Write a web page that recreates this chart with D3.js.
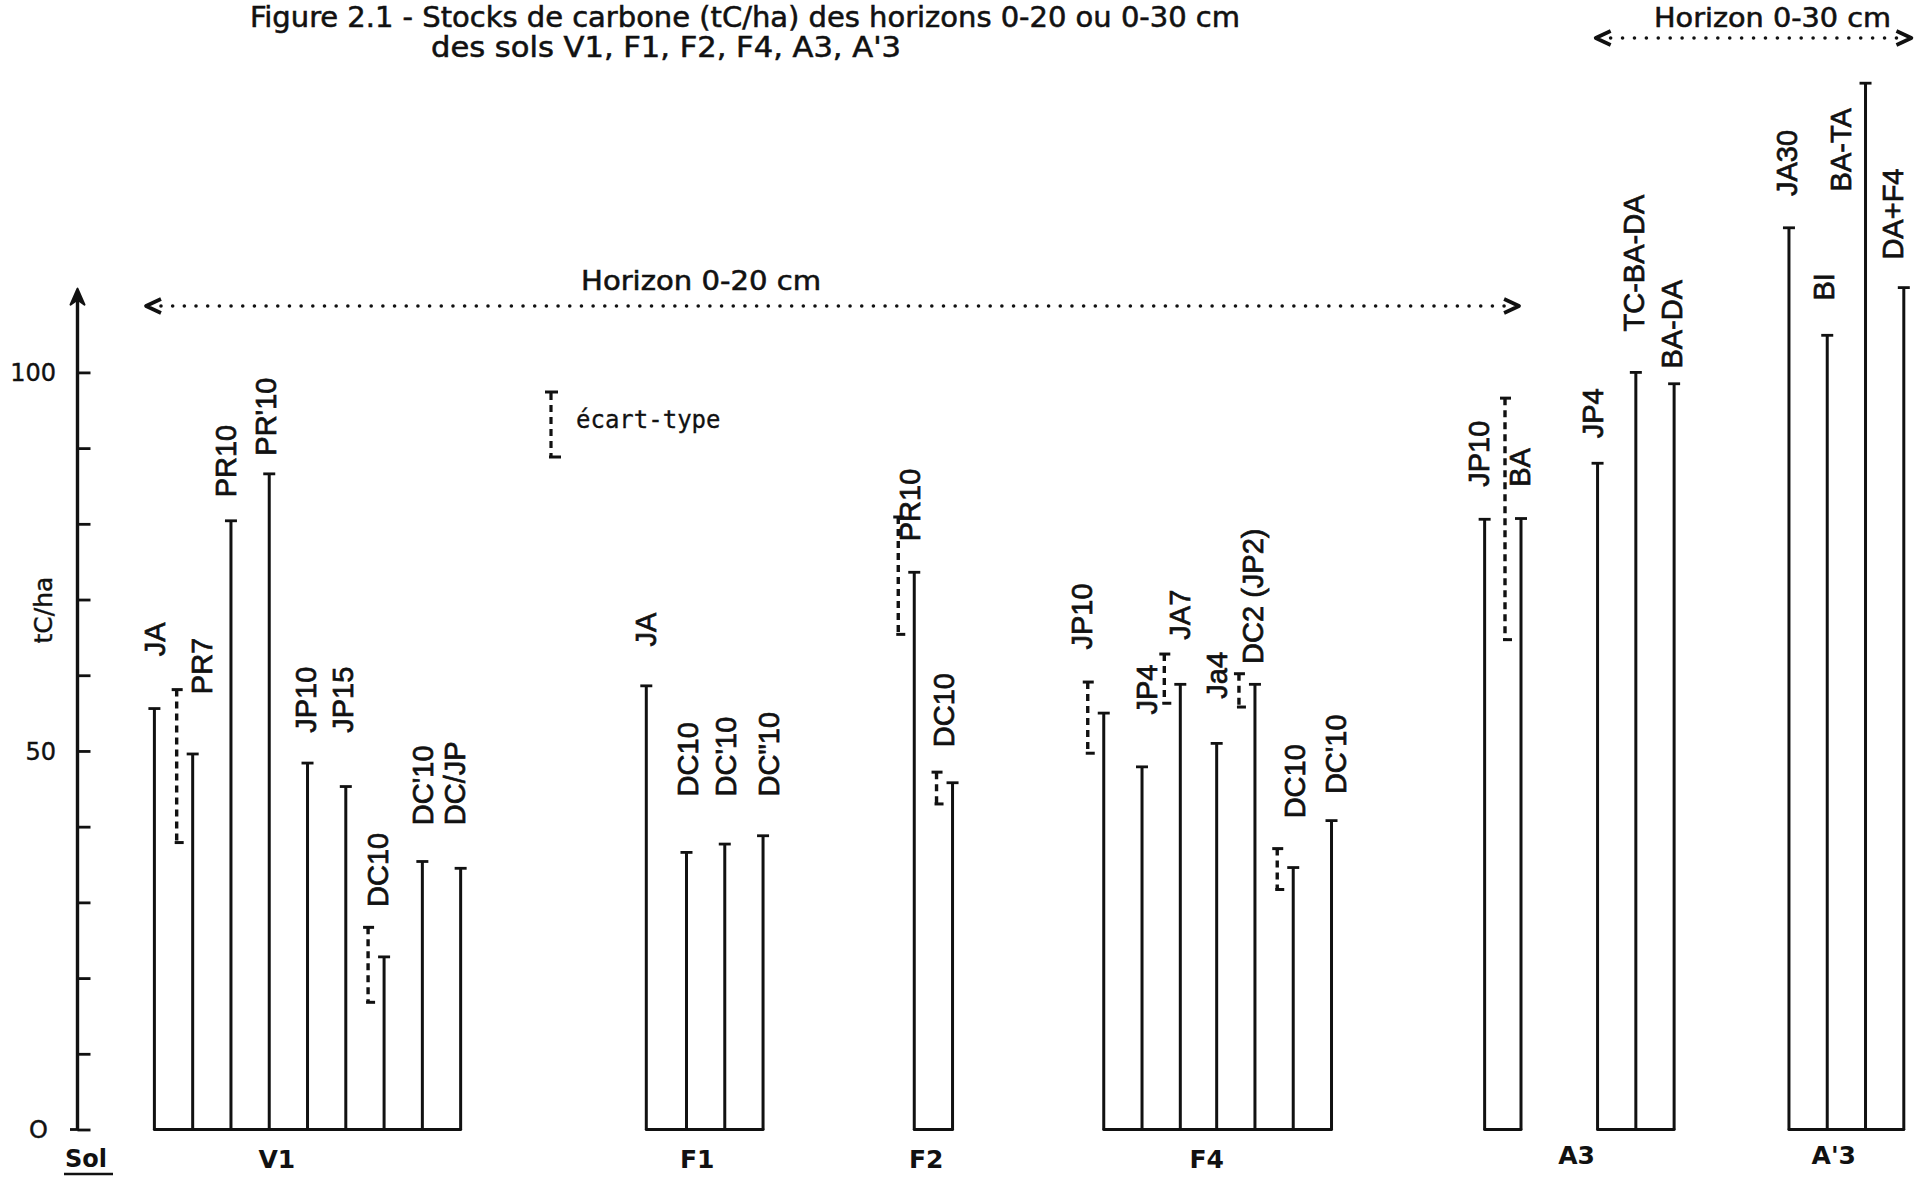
<!DOCTYPE html>
<html>
<head>
<meta charset="utf-8">
<script src="https://cdn.jsdelivr.net/npm/d3@7"></script>
<style>
  html, body { margin: 0; padding: 0; background: #fff; }
  svg { display: block; }
</style>
</head>
<body>
<svg id="chart" width="1921" height="1178"></svg>
<script>
// ---------------- DATA ----------------
const soils = ["V1", "F1", "F2", "F4", "A3", "A'3"];

const barLabels = [
  "JA", "PR7", "PR10", "PR'10", "JP10", "JP15", "DC10", "DC'10", "DC/JP",
  "JA", "DC10", "DC'10", "DC\"10",
  "PR10", "DC10",
  "JP10", "JP4", "JA7", "Ja4", "DC2 (JP2)", "DC10", "DC'10",
  "JP10", "BA", "JP4", "TC-BA-DA", "BA-DA",
  "JA30", "BI", "BA-TA", "DA+F4"
];

const barSoil = [
  "V1", "V1", "V1", "V1", "V1", "V1", "V1", "V1", "V1",
  "F1", "F1", "F1", "F1",
  "F2", "F2",
  "F4", "F4", "F4", "F4", "F4", "F4", "F4",
  "A3", "A3", "A3", "A3", "A3",
  "A'3", "A'3", "A'3", "A'3"
];

// carbon stock (tC/ha)
const stocks = [
  55.6, 49.6, 80.4, 86.6, 48.4, 45.3, 22.8, 35.4, 34.5,
  58.6, 36.6, 37.7, 38.8,
  73.6, 45.8,
  55.0, 47.9, 58.8, 51.0, 58.8, 34.6, 40.8,
  80.6, 80.7, 88.0, 100.0, 98.5,
  119.1, 104.9, 138.2, 111.2
];

// standard deviation range (low / high), null when not drawn
const errLow = [
  null, 37.9, null, null, null, null, 16.8, null, null,
  null, null, null, null,
  65.4, 43.0,
  49.7, null, 56.3, null, 55.8, 31.7, null,
  null, 64.7, null, null, null,
  null, null, null, null
];
const errHigh = [
  null, 58.1, null, null, null, null, 26.7, null, null,
  null, null, null, null,
  80.9, 47.2,
  59.1, null, 62.8, null, 60.2, 37.1, null,
  null, 96.6, null, null, null,
  null, null, null, null
];

const yTicksLabelled = [0, 50, 100];
const yTicksMinor = [10, 20, 30, 40, 60, 70, 80, 90];

// ---------------- LAYOUT ----------------
// horizontal order of the bars (category slots, gaps between soils)
const slot = [
  0, 1, 2, 3, 4, 5, 6, 7, 8,
  12.85, 13.9, 14.9, 15.9,
  19.85, 20.85,
  24.8, 25.8, 26.8, 27.75, 28.75, 29.75, 30.75,
  34.75, 35.7, 37.7, 38.7, 39.7,
  42.7, 43.7, 44.7, 45.7
];
const soilLabelSlot = [3.2, 14.18, 20.16, 27.49, 37.15, 43.87];
// label start height (tC/ha units) and horizontal nudge (px)
const labelAt = [
  62.5, 57.5, 83.5, 89.0, 52.4, 52.4, 29.4, 40.2, 40.2,
  63.8, 44.0, 44.0, 44.0,
  77.7, 50.5,
  63.4, 54.8, 64.7, 56.9, 61.5, 41.1, 44.3,
  84.9, 84.9, 91.3, 105.4, 100.5,
  123.3, 109.5, 123.9, 114.9
];
const labelDx = [
  0, 9, -5, -4, -2, -3, -7, 0, -6,
  -1, 1, 1, 5,
  -5, -8.6,
  -22, 5, -1, 0, -2.5, 1.2, 3.7,
  -6, -1.2, -5, -2.5, -2.5,
  -2.5, -3.7, -24.5, -11
];

const W = 1921, H = 1178;
const svg = d3.select("#chart");
svg.append("rect").attr("width", W).attr("height", H).attr("fill", "#fff");

const x = d3.scaleLinear().domain([0, 45.7]).range([154.4, 1903.8]);
const y = d3.scaleLinear().domain([0, 100]).range([1129.5, 372.4]);

const ink = "#111";
const labelFont = "'Liberation Sans', Arial, sans-serif";
const titleFont = "'Liberation Sans Narrow', 'DejaVu Sans Condensed', 'Liberation Sans', sans-serif";

// ---------------- TITLE ----------------
svg.append("text")
  .attr("x", 250).attr("y", 27)
  .attr("font-family", titleFont).attr("font-size", 28)
  .attr("textLength", 990).attr("lengthAdjust", "spacingAndGlyphs")
  .attr("fill", ink).attr("stroke", ink).attr("stroke-width", 0.5)
  .text("Figure 2.1 - Stocks de carbone (tC/ha) des horizons 0-20 ou 0-30 cm");
svg.append("text")
  .attr("x", 431).attr("y", 57)
  .attr("font-family", titleFont).attr("font-size", 28)
  .attr("textLength", 470).attr("lengthAdjust", "spacingAndGlyphs")
  .attr("fill", ink).attr("stroke", ink).attr("stroke-width", 0.5)
  .text("des sols V1, F1, F2, F4, A3, A'3");

// ---------------- Y AXIS ----------------
const yAxis = d3.axisRight(y)
  .tickValues(yTicksMinor.concat(yTicksLabelled))
  .tickSize(13).tickFormat("");
const axG = svg.append("g").attr("transform", "translate(77.5,0)").call(yAxis);
axG.select(".domain").remove();
axG.selectAll(".tick line").attr("stroke", ink).attr("stroke-width", 2.8);

svg.append("line")
  .attr("x1", 77.5).attr("x2", 77.5)
  .attr("y1", y(0)).attr("y2", y(110.5))
  .attr("stroke", ink).attr("stroke-width", 3.4);
svg.append("path")
  .attr("d", `M${77.5},${y(110.8) - 2} l-7,16 l7,-5 l7,5 z`)
  .attr("fill", ink).attr("stroke", ink).attr("stroke-width", 2).attr("stroke-linejoin", "round");
svg.append("line")
  .attr("x1", 70).attr("x2", 78).attr("y1", y(0)).attr("y2", y(0))
  .attr("stroke", ink).attr("stroke-width", 2.8);

svg.append("g").selectAll("text").data(yTicksLabelled).join("text")
  .attr("x", d => d === 0 ? 48 : 56)
  .attr("y", d => y(d))
  .attr("dy", "0.36em")
  .attr("text-anchor", "end")
  .attr("font-family", "'DejaVu Sans', sans-serif")
  .attr("font-size", 24)
  .attr("fill", ink).attr("stroke", ink).attr("stroke-width", 0.4)
  .text(d => d === 0 ? "O" : d);

svg.append("text")
  .attr("transform", `translate(43,${y(68.6)}) rotate(-90)`)
  .attr("text-anchor", "middle").attr("dy", "0.36em")
  .attr("font-family", "'DejaVu Sans', sans-serif").attr("font-size", 25)
  .attr("fill", ink).attr("stroke", ink).attr("stroke-width", 0.4)
  .text("tC/ha");

svg.append("text")
  .attr("x", 65).attr("y", 1167)
  .attr("font-family", "'DejaVu Sans', sans-serif").attr("font-size", 24)
  .attr("font-weight", "bold")
  .attr("fill", ink).text("Sol");
svg.append("line")
  .attr("x1", 64).attr("x2", 113).attr("y1", 1174).attr("y2", 1174)
  .attr("stroke", ink).attr("stroke-width", 2.4);

// ---------------- BARS ----------------
const bars = stocks.map((v, i) => ({
  v, i, label: barLabels[i], soil: barSoil[i], s: slot[i],
  lo: errLow[i], hi: errHigh[i], la: labelAt[i], dx: labelDx[i]
}));

const clusters = [];
bars.forEach((b, i) => {
  const prev = bars[i - 1];
  if (prev && prev.soil === b.soil && b.s - prev.s < 1.2) clusters[clusters.length - 1].push(b);
  else clusters.push([b]);
});
svg.append("g").selectAll("line").data(clusters.filter(c => c.length > 1)).join("line")
  .attr("x1", c => x(c[0].s)).attr("x2", c => x(c[c.length - 1].s))
  .attr("y1", y(0)).attr("y2", y(0))
  .attr("stroke", ink).attr("stroke-width", 3).attr("stroke-linecap", "round");

const bg = svg.append("g");
bg.selectAll("line.bar").data(bars).join("line").attr("class", "bar")
  .attr("x1", d => x(d.s)).attr("x2", d => x(d.s))
  .attr("y1", y(0)).attr("y2", d => y(d.v))
  .attr("stroke", ink).attr("stroke-width", 3);
bg.selectAll("line.cap").data(bars).join("line").attr("class", "cap")
  .attr("x1", d => x(d.s) - 6).attr("x2", d => x(d.s) + 6)
  .attr("y1", d => y(d.v)).attr("y2", d => y(d.v))
  .attr("stroke", ink).attr("stroke-width", 2.8);

// standard deviation (dashed)
const errs = bars.filter(d => d.lo !== null);
const eg = svg.append("g");
eg.selectAll("line.err").data(errs).join("line").attr("class", "err")
  .attr("x1", d => x(d.s) - 16).attr("x2", d => x(d.s) - 16)
  .attr("y1", d => y(d.hi)).attr("y2", d => y(d.lo))
  .attr("stroke", ink).attr("stroke-width", 3.4).attr("stroke-dasharray", "7,5");
eg.selectAll("line.errTop").data(errs).join("line").attr("class", "errTop")
  .attr("x1", d => x(d.s) - 21).attr("x2", d => x(d.s) - 10)
  .attr("y1", d => y(d.hi)).attr("y2", d => y(d.hi))
  .attr("stroke", ink).attr("stroke-width", 3);
eg.selectAll("line.errBot").data(errs).join("line").attr("class", "errBot")
  .attr("x1", d => x(d.s) - 18).attr("x2", d => x(d.s) - 9)
  .attr("y1", d => y(d.lo)).attr("y2", d => y(d.lo))
  .attr("stroke", ink).attr("stroke-width", 3);

// bar labels (vertical)
svg.append("g").selectAll("text").data(bars).join("text")
  .attr("transform", d => `translate(${x(d.s) + d.dx},${y(d.la)}) rotate(-90)`)
  .attr("dy", "0.36em")
  .attr("font-family", labelFont).attr("font-size", 29)
  .attr("fill", ink).attr("stroke", ink).attr("stroke-width", 0.7)
  .text(d => d.label);

// soil labels
svg.append("g").selectAll("text").data(soils).join("text")
  .attr("x", (d, i) => x(soilLabelSlot[i]))
  .attr("y", (d, i) => i >= 4 ? 1164 : 1168)
  .attr("text-anchor", "middle")
  .attr("font-family", "'DejaVu Sans', sans-serif").attr("font-size", 25)
  .attr("font-weight", "bold")
  .attr("fill", ink)
  .text(d => d);

// ---------------- LEGEND ----------------
const lg = svg.append("g");
lg.append("line").attr("x1", 551).attr("x2", 551).attr("y1", 393).attr("y2", 456)
  .attr("stroke", ink).attr("stroke-width", 3.2).attr("stroke-dasharray", "7,5");
lg.append("line").attr("x1", 545).attr("x2", 558).attr("y1", 392).attr("y2", 392)
  .attr("stroke", ink).attr("stroke-width", 3);
lg.append("line").attr("x1", 549).attr("x2", 561).attr("y1", 457).attr("y2", 457)
  .attr("stroke", ink).attr("stroke-width", 3);
lg.append("text").attr("x", 576).attr("y", 428)
  .attr("font-family", "'DejaVu Sans Mono', monospace").attr("font-size", 24)
  .attr("fill", ink).attr("stroke", ink).attr("stroke-width", 0.3)
  .text("écart-type");

// ---------------- HORIZON ANNOTATIONS ----------------
function horizon(s0, s1, yy, label, tx, ty, tlen) {
  const x0 = x(s0), x1 = x(s1);
  const g = svg.append("g");
  const n = Math.round((x1 - x0 - 30) / 11.7);
  const dots = d3.range(n + 1).map(k => x0 + 15 + k * (x1 - x0 - 30) / n);
  g.selectAll("circle").data(dots).join("circle")
    .attr("cx", d => d).attr("cy", yy).attr("r", 1.8).attr("fill", ink);
  g.append("path").attr("d", `M${x0 + 15},${yy - 7} L${x0},${yy} L${x0 + 15},${yy + 7}`)
    .attr("fill", "none").attr("stroke", ink).attr("stroke-width", 3.6).attr("stroke-linejoin", "round");
  g.append("path").attr("d", `M${x1 - 15},${yy - 7} L${x1},${yy} L${x1 - 15},${yy + 7}`)
    .attr("fill", "none").attr("stroke", ink).attr("stroke-width", 3.6).attr("stroke-linejoin", "round");
  g.append("text").attr("x", tx).attr("y", ty)
    .attr("font-family", titleFont).attr("font-size", 26)
    .attr("textLength", tlen).attr("lengthAdjust", "spacingAndGlyphs")
    .attr("fill", ink).attr("stroke", ink).attr("stroke-width", 0.5)
    .text(label);
}
horizon(-0.22, 35.65, 306, "Horizon 0-20 cm", 581, 290, 240);
horizon(37.65, 45.9, 38, "Horizon 0-30 cm", 1654, 27, 237);
</script>
</body>
</html>
